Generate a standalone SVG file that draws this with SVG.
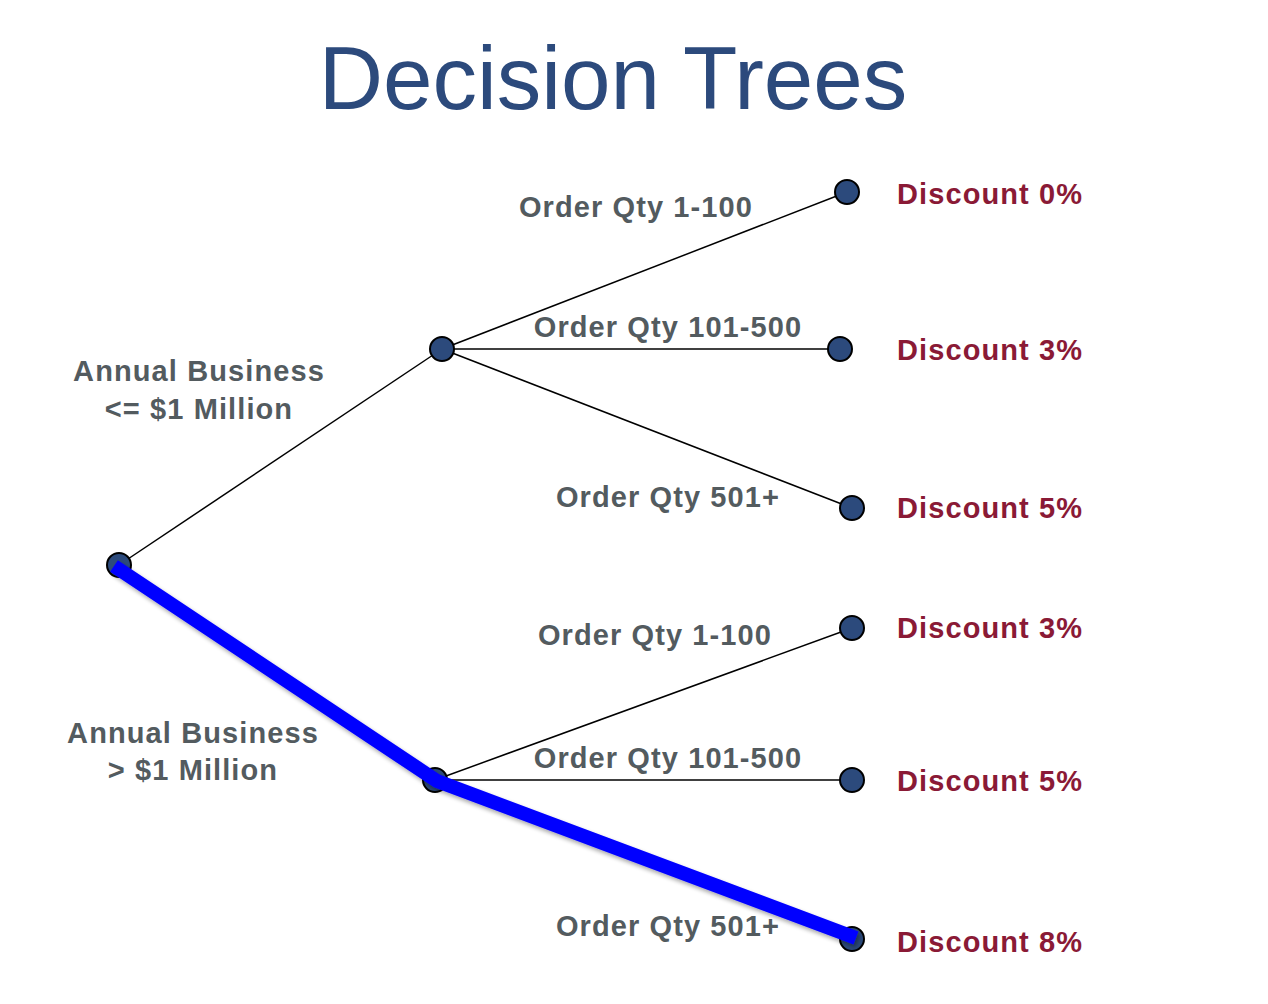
<svg xmlns="http://www.w3.org/2000/svg" width="1268" height="1004" viewBox="0 0 1268 1004">
<defs>
<style>
.title{font-family:"Liberation Sans",Arial,sans-serif;font-size:89px;fill:#2C4A7C}
.lbl{font-family:"Liberation Sans",Arial,sans-serif;font-size:29px;font-weight:bold;fill:#535B5F;text-anchor:middle;letter-spacing:1.1px}
.disc{font-family:"Liberation Sans",Arial,sans-serif;font-size:29px;font-weight:bold;fill:#8A1A36;letter-spacing:1.1px}
.edge{stroke:#000;stroke-width:1.5;fill:none}
.hl{stroke:#0000FF;stroke-width:14;fill:none;stroke-linejoin:round}
.node{fill:#2C4A7C;stroke:#000;stroke-width:2}
</style>
<filter id="sh" x="-10%" y="-10%" width="120%" height="120%"><feGaussianBlur in="SourceAlpha" stdDeviation="2"/><feOffset dx="2" dy="3"/><feComponentTransfer><feFuncA type="linear" slope="0.35"/></feComponentTransfer><feMerge><feMergeNode/><feMergeNode in="SourceGraphic"/></feMerge></filter>
</defs>
<rect width="1268" height="1004" fill="#fff"/>
<text class="title" x="613" y="109" text-anchor="middle">Decision Trees</text>
<g id="connectors">
<line class="edge" x1="119" y1="565" x2="442" y2="349"/>
<line class="edge" x1="442" y1="349" x2="847" y2="192"/>
<line class="edge" x1="442" y1="349" x2="840" y2="349"/>
<line class="edge" x1="442" y1="349" x2="852" y2="508"/>
<line class="edge" x1="435" y1="780" x2="852" y2="628"/>
<line class="edge" x1="435" y1="780" x2="852" y2="780"/>
</g>
<g id="n-root"><circle class="node" cx="119" cy="565" r="12"/></g>
<g id="n-mid1"><circle class="node" cx="442" cy="349" r="12"/></g>
<g id="n-mid2"><circle class="node" cx="435" cy="780" r="12"/></g>
<g id="n-l1"><circle class="node" cx="847" cy="192" r="12"/></g>
<g id="n-l2"><circle class="node" cx="840" cy="349" r="12"/></g>
<g id="n-l3"><circle class="node" cx="852" cy="508" r="12"/></g>
<g id="n-l4"><circle class="node" cx="852" cy="628" r="12"/></g>
<g id="n-l5"><circle class="node" cx="852" cy="780" r="12"/></g>
<g id="n-l6"><circle class="node" cx="852" cy="939" r="12"/></g>
<g id="highlight">
<polyline class="hl" filter="url(#sh)" points="114,566 437,781 856,938"/>
</g>
<g id="labels">
<text class="lbl" x="199" y="381">Annual Business</text>
<text class="lbl" x="199" y="419">&lt;= $1 Million</text>
<text class="lbl" x="193" y="743">Annual Business</text>
<text class="lbl" x="193" y="780">&gt; $1 Million</text>
<text class="lbl" x="636" y="217">Order Qty 1-100</text>
<text class="lbl" x="668" y="337">Order Qty 101-500</text>
<text class="lbl" x="668" y="507">Order Qty 501+</text>
<text class="lbl" x="655" y="645">Order Qty 1-100</text>
<text class="lbl" x="668" y="768">Order Qty 101-500</text>
<text class="lbl" x="668" y="936">Order Qty 501+</text>
<text class="disc" x="897" y="204">Discount 0%</text>
<text class="disc" x="897" y="360">Discount 3%</text>
<text class="disc" x="897" y="518">Discount 5%</text>
<text class="disc" x="897" y="638">Discount 3%</text>
<text class="disc" x="897" y="791">Discount 5%</text>
<text class="disc" x="897" y="952">Discount 8%</text>
</g>
</svg>
